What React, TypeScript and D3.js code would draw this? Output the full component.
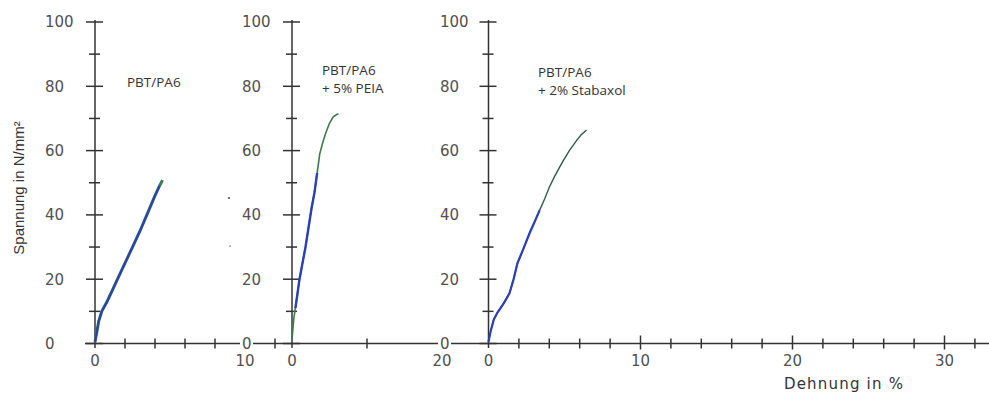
import React from "react";
import * as d3 from "d3";

// ---- Data (Dehnung in %, Spannung in N/mm²) ----
const p1Strain = [0, 0.1, 0.25, 0.45, 0.8, 1.2, 1.6, 2.0, 2.5, 3.0, 3.5, 4.0, 4.3, 4.5];
const p1Stress = [0.5, 3, 7, 10, 13, 17, 21, 25, 30, 35, 40.5, 46, 49, 50.8];
const p1BlueEnd = 12;

const p2Strain = [0, 0.1, 0.25, 0.45, 0.7, 1.0, 1.4, 1.8, 2.2, 2.6, 3.0, 3.35, 3.7, 4.1, 4.5, 5.0, 5.5, 6.0, 6.2];
const p2Stress = [1, 4, 8, 11, 15, 20, 25, 30, 36, 42, 47, 53, 59, 62.5, 65.5, 68.5, 70.5, 71.3, 71.4];
const p2BlueStart = 3;
const p2BlueEnd = 11;

const p3Strain = [0, 0.15, 0.35, 0.6, 1.0, 1.38, 1.65, 1.9, 2.3, 2.7, 3.0, 3.36, 3.7, 4.0, 4.35, 4.67, 5.0, 5.33, 5.8, 6.1, 6.45];
const p3Stress = [0.5, 4, 7.5, 9.7, 12.5, 15.6, 20, 24.9, 29.5, 34.3, 37.5, 41.4, 45, 48.6, 52, 54.8, 57.5, 60.1, 63.2, 64.9, 66.4];
const p3BlueEnd = 11;

const yTicks = [0, 10, 20, 30, 40, 50, 60, 70, 80, 90, 100];
const yLabels = [0, 20, 40, 60, 80, 100];

const p1XTicks = [2, 4, 6, 8, 10, 12];
const p1XLabels = [0, 10];
const p2XTicks = [10];
const p2XLabels = [0, 20];
const p3XTicks = [2, 4, 6, 8, 10, 12, 14, 16, 18, 20, 22, 24, 26, 28, 30, 32];
const p3XMajor = [10, 20, 30];
const p3XLabels = [0, 10, 20, 30];

const titles1 = ["PBT/PA6"];
const titles2 = ["PBT/PA6", "+ 5% PEIA"];
const titles3 = ["PBT/PA6", "+ 2% Stabaxol"];

const yAxisTitle = "Spannung in N/mm²";
const xAxisTitle = "Dehnung in %";

// ---- Layout ----
const W = 989;
const H = 394;
const AX = "#333";
const LBL = "#505050";
const BLUE = "#2b3fb8";
const GREEN = "#3d7a52";

const y = d3.scaleLinear().domain([0, 100]).range([343.5, 22]);

type Panel = {
  x: d3.ScaleLinear<number, number>;
  labelX: number;
  ticks: number[];
  major: number[];
  xLabels: number[];
  strain: number[];
  stress: number[];
  titles: string[];
  titleX: number;
  titleY: number;
};

const panels: Panel[] = [
  {
    x: d3.scaleLinear().domain([0, 10]).range([95, 245]),
    labelX: 45,
    ticks: p1XTicks,
    major: [],
    xLabels: p1XLabels,
    strain: p1Strain,
    stress: p1Stress,
    titles: titles1,
    titleX: 127,
    titleY: 87,
  },
  {
    x: d3.scaleLinear().domain([0, 20]).range([292, 442]),
    labelX: 242,
    ticks: p2XTicks,
    major: [],
    xLabels: p2XLabels,
    strain: p2Strain,
    stress: p2Stress,
    titles: titles2,
    titleX: 322,
    titleY: 75,
  },
  {
    x: d3.scaleLinear().domain([0, 10]).range([488.5, 640.5]),
    labelX: 440,
    ticks: p3XTicks,
    major: p3XMajor,
    xLabels: p3XLabels,
    strain: p3Strain,
    stress: p3Stress,
    titles: titles3,
    titleX: 538,
    titleY: 77,
  },
];

function pathFor(p: Panel, from: number, to: number) {
  const pts: [number, number][] = [];
  for (let i = from; i <= to && i < p.strain.length; i++) pts.push([p.strain[i], p.stress[i]]);
  return (
    d3
      .line<[number, number]>()
      .x((d) => p.x(d[0]))
      .y((d) => y(d[1]))(pts) || ""
  );
}

export default function App() {
  const [a, b, c] = panels;
  return (
    <svg
      width={W}
      height={H}
      style={{ position: "fixed", left: 0, top: 0, background: "#fff" }}
      xmlns="http://www.w3.org/2000/svg"
    >
      <rect width={W} height={H} fill="#fff" />
      {/* continuous x axis line */}
      <line x1={85} x2={W} y1={y(0)} y2={y(0)} stroke={AX} strokeWidth={1.5} />

      {panels.map((p, pi) => {
        const x0 = p.x(0);
        return (
          <g key={pi}>
            {/* y axis */}
            <line x1={x0} x2={x0} y1={20} y2={348} stroke={AX} strokeWidth={1.5} />
            {yTicks.map((t) => {
              const major = yLabels.includes(t);
              return (
                <line
                  key={t}
                  x1={x0 - (major ? 9 : 6)}
                  x2={x0 + (major ? 8 : 5)}
                  y1={y(t)}
                  y2={y(t)}
                  stroke={AX}
                  strokeWidth={1.5}
                />
              );
            })}
            {yLabels.map((t) => (
              <g key={t}>
                {t === 0 && pi > 0 ? (
                  <rect x={p.labelX - 2} y={y(t) - 6} width={13} height={12} fill="#fff" />
                ) : null}
                <text
                  x={p.labelX}
                  y={y(t)}
                  dy="0.36em"
                  fontFamily="DejaVu Sans"
                  fontSize={15}
                  fill={LBL}
                >
                  {t}
                </text>
              </g>
            ))}
            {/* x ticks */}
            {p.ticks.map((t) => {
              const major = p.major.includes(t);
              return (
                <line
                  key={t}
                  x1={p.x(t)}
                  x2={p.x(t)}
                  y1={y(0) - (major ? 8 : 5)}
                  y2={y(0) + (major ? 6 : 5)}
                  stroke={AX}
                  strokeWidth={1.5}
                />
              );
            })}
            {p.xLabels.map((t) => (
              <text
                key={t}
                x={p.x(t)}
                y={366}
                textAnchor="middle"
                fontFamily="DejaVu Sans"
                fontSize={15}
                fill={LBL}
              >
                {t}
              </text>
            ))}
            {p.titles.map((s, i) => (
              <text
                key={i}
                x={p.titleX}
                y={p.titleY + i * 18}
                fontFamily="Open Sans"
                fontSize={13.5}
                fill="#333"
              >
                {s}
              </text>
            ))}
          </g>
        );
      })}

      {/* curves */}
      <path d={pathFor(a, 0, a.strain.length - 1)} fill="none" stroke={GREEN} strokeWidth={3} />
      <path d={pathFor(a, 0, p1BlueEnd)} fill="none" stroke={BLUE} strokeWidth={2} />

      <path d={pathFor(b, 0, b.strain.length - 1)} fill="none" stroke={GREEN} strokeWidth={1.6} />
      <path d={pathFor(b, p2BlueStart, p2BlueEnd)} fill="none" stroke={BLUE} strokeWidth={2.4} />

      <path d={pathFor(c, 0, c.strain.length - 1)} fill="none" stroke="#2f5a4c" strokeWidth={1.4} />
      <path d={pathFor(c, 0, p3BlueEnd)} fill="none" stroke={BLUE} strokeWidth={2.2} />

      {/* small artifacts */}
      <circle cx={229} cy={198} r={1} fill="#444" />
      <circle cx={230} cy={246} r={0.8} fill="#666" />

      {/* axis titles */}
      <text
        transform="translate(24,188) rotate(-90)"
        textAnchor="middle"
        fontFamily="Liberation Sans"
        fontSize={15}
        fill="#333"
      >
        {yAxisTitle}
      </text>
      <text
        x={844}
        y={389}
        textAnchor="middle"
        fontFamily="DejaVu Sans"
        fontSize={15}
        letterSpacing={1.2}
        fill="#333"
      >
        {xAxisTitle}
      </text>
    </svg>
  );
}
